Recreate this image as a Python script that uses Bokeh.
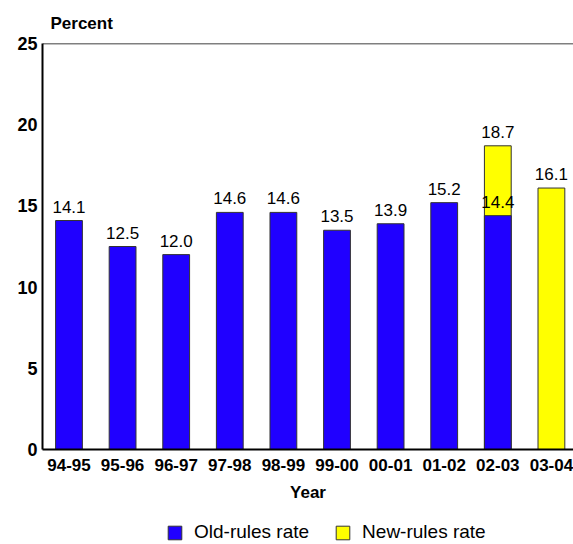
from bokeh.plotting import figure
from bokeh.models import (Range1d, FixedTicker, Span, Legend, LegendItem,
                          ColumnDataSource, LabelSet)
from bokeh.core.properties import value
from bokeh.layouts import column
from bokeh.embed import file_html
from bokeh.resources import INLINE

years = ["94-95", "95-96", "96-97", "97-98", "98-99", "99-00", "00-01", "01-02", "02-03", "03-04"]
old_rules = [14.1, 12.5, 12.0, 14.6, 14.6, 13.5, 13.9, 15.2, 14.4, None]
new_rules = [None, None, None, None, None, None, None, None, 18.7, 16.1]
y_ticks = [0, 5, 10, 15, 20, 25]
series_names = ["Old-rules rate", "New-rules rate"]

FONT = "Liberation Sans"
BLUE = "#2000FF"
YELLOW = "#FFFF00"
EDGE = "#333333"

idx = list(range(len(years)))
old_x = [i for i, v in zip(idx, old_rules) if v is not None]
old_y = [v for v in old_rules if v is not None]
new_x = [i for i, v in zip(idx, new_rules) if v is not None]
new_y = [v for v in new_rules if v is not None]

p = figure(width=573, height=509, output_backend="svg", toolbar_location=None,
           x_range=Range1d(-0.494, 9.412), y_range=Range1d(0, 25),
           min_border_left=42, min_border_top=43, min_border_right=0, min_border_bottom=60,
           title="Percent")
p.outline_line_color = None
p.xgrid.visible = False
p.ygrid.visible = False

p.title.align = "left"
p.title.offset = 8
p.title.standoff = 22
p.title.text_font = FONT
p.title.text_font_style = "bold"
p.title.text_font_size = "17px"
p.title.text_color = "black"

new_src = ColumnDataSource(dict(x=new_x, top=new_y, lab=[f"{v:.1f}" for v in new_y]))
old_src = ColumnDataSource(dict(x=old_x, top=old_y, lab=[f"{v:.1f}" for v in old_y]))

p.vbar(x="x", top="top", bottom=0, width=0.5, source=new_src,
       fill_color=YELLOW, line_color=EDGE, line_width=1)
p.vbar(x="x", top="top", bottom=0, width=0.5, source=old_src,
       fill_color=BLUE, line_color=EDGE, line_width=1)

for src in (new_src, old_src):
    p.add_layout(LabelSet(x="x", y="top", text="lab", source=src, text_align="center",
                          text_baseline="alphabetic", y_offset=8, text_font=value(FONT),
                          text_font_size=value("17px"), text_color="black"))

p.add_layout(Span(location=25, dimension="width", line_color="black", line_width=1.5))

# axes
p.yaxis.ticker = FixedTicker(ticks=y_ticks)
p.yaxis.minor_tick_line_color = None
p.yaxis.major_tick_out = 0
p.yaxis.major_tick_in = 0
p.yaxis.major_label_standoff = 5
p.yaxis.axis_line_width = 2
p.yaxis.axis_line_color = "black"
p.yaxis.major_label_text_font = FONT
p.yaxis.major_label_text_font_style = "bold"
p.yaxis.major_label_text_font_size = "18px"
p.yaxis.major_label_text_color = "black"

p.xaxis.ticker = FixedTicker(ticks=idx)
p.xaxis.major_label_overrides = {i: y for i, y in zip(idx, years)}
p.xaxis.minor_tick_line_color = None
p.xaxis.major_tick_out = 0
p.xaxis.major_tick_in = 0
p.xaxis.major_label_standoff = 9
p.xaxis.axis_line_width = 2
p.xaxis.axis_line_color = "black"
p.xaxis.major_label_text_font = FONT
p.xaxis.major_label_text_font_style = "bold"
p.xaxis.major_label_text_font_size = "17px"
p.xaxis.major_label_text_color = "black"
p.xaxis.axis_label = "Year"
p.xaxis.axis_label_standoff = 9
p.xaxis.axis_label_text_font = FONT
p.xaxis.axis_label_text_font_style = "bold"
p.xaxis.axis_label_text_font_size = "17px"
p.xaxis.axis_label_text_color = "black"

# legend strip below the chart (its bars lie outside its view; only the legend shows)
lg = figure(width=573, height=35, output_backend="svg", toolbar_location=None,
            x_range=Range1d(-0.494, 9.412), y_range=Range1d(100, 101),
            min_border_left=42, min_border_right=0, min_border_top=0, min_border_bottom=0)
lg.axis.visible = False
lg.grid.visible = False
lg.outline_line_color = None
r_old = lg.vbar(x="x", top="top", bottom=0, width=0.5, source=old_src,
                fill_color=BLUE, line_color=EDGE, line_width=1)
r_new = lg.vbar(x="x", top="top", bottom=0, width=0.5, source=new_src,
                fill_color=YELLOW, line_color=EDGE, line_width=1)
legend = Legend(items=[LegendItem(label=series_names[0], renderers=[r_old]),
                       LegendItem(label=series_names[1], renderers=[r_new])],
                orientation="horizontal", location=(124, 1),
                glyph_width=17, glyph_height=17, label_standoff=11, spacing=25,
                padding=0, margin=0, border_line_color=None, background_fill_alpha=0,
                label_text_font=FONT, label_text_font_size="19px", label_text_color="black")
lg.add_layout(legend)

layout = column(p, lg, spacing=0)
open("out.html", "w").write(file_html(layout, INLINE))
